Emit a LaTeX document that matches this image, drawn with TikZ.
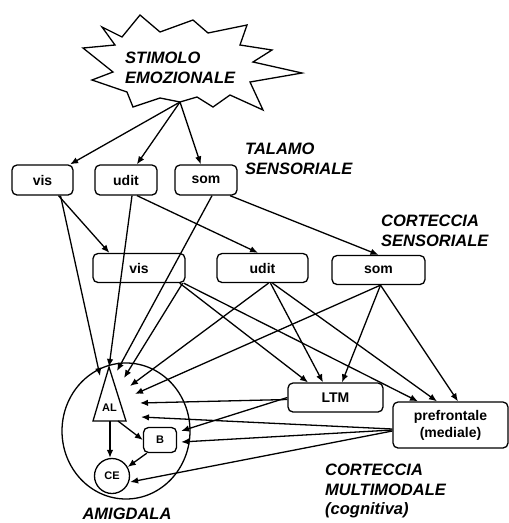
\documentclass[tikz,border=0pt]{standalone}
\usepackage{fontspec}
\setmainfont{Liberation Sans}
\usetikzlibrary{shapes.geometric,arrows.meta,calc}
\begin{document}
\begin{tikzpicture}[x=1pt,y=-1pt,
  arr/.style={-{Latex[length=8pt,width=6.5pt]}, line width=1.3pt},
  box/.style={draw, line width=1.3pt, rounded corners=5pt, fill=white, inner sep=0pt,
    font=\fontsize{14}{17}\selectfont\bfseries, align=center},
  lab/.style={font=\fontsize{16.5}{19.5}\selectfont\bfseries\itshape, align=left,
    inner sep=0pt, anchor=north west},
  small/.style={font=\fontsize{11}{13}\selectfont\bfseries, inner sep=0pt}
]
\useasboundingbox (0,0) rectangle (509,523);

% star
\draw[line width=1.3pt, fill=white] (102,27) -- (122,37) -- (140,15) -- (160,32) -- (193,20)
  -- (208,33) -- (247,25) -- (240,45) -- (272,50) -- (253,62) -- (302,73) -- (250,82)
  -- (263,110) -- (230,95) -- (213,107) -- (197,97) -- (180,102) -- (160,98) -- (133,107)
  -- (127,92) -- (92,80) -- (113,72) -- (83,48) -- (115,45) -- cycle;
\coordinate (sb) at (180,102);
\node[lab] (stim) at (125,52) {STIMOLO\\EMOZIONALE};

% labels
\node[lab] (tal) at (245,143) {TALAMO\\SENSORIALE};
\node[lab] (csl) at (381,215) {CORTECCIA\\SENSORIALE};
\node[lab] (cml) at (325,464) {CORTECCIA\\MULTIMODALE\\(cognitiva)};
\node[lab, anchor=north] (aml) at (127,507.5) {AMIGDALA};

% thalamus
\node[box, minimum width=61, minimum height=30] (tv) at (42.5,180) {vis};
\node[box, minimum width=62, minimum height=30] (tu) at (126,180) {udit};
\node[box, minimum width=62, minimum height=30] (ts) at (206,180) {som};

% sensory cortex
\node[box, minimum width=92, minimum height=29] (cv) at (139,268) {vis};
\node[box, minimum width=91, minimum height=29] (cu) at (262.5,268) {udit};
\node[box, minimum width=93, minimum height=29] (cs) at (378.5,270) {som};

% multimodal cortex
\node[box, minimum width=95, minimum height=29] (ltm) at (335.5,397.5) {LTM};
\node[box, minimum width=115, minimum height=46] (pref) at (450.5,425) {prefrontale\\(mediale)};

% amygdala
\node[draw, ellipse, line width=1.3pt, minimum width=128, minimum height=136, inner sep=0pt] (amy) at (126,431) {};
\coordinate (ALa) at (109,367);
\coordinate (ALl) at (93,421);
\coordinate (ALr) at (126,421);
\draw[line width=1.3pt, fill=white] (ALa) -- (ALr) -- (ALl) -- cycle;
\node[small] (AL) at (109.5,408) {AL};
\coordinate (ALb) at (110,421);
\node[draw, line width=1.3pt, rounded corners=5pt, fill=white, minimum width=33, minimum height=25, small] (B) at (160,440) {B};
\node[draw, circle, line width=1.3pt, fill=white, minimum size=35, small] (CE) at (112,476) {CE};

% star to thalamus
\draw[arr] (sb) -- (tv);
\draw[arr] (sb) -- (tu);
\draw[arr] (sb) -- (ts);

% thalamus to cortex
\draw[arr] ([shift={(16,0)}]tv.south) -- ([shift={(17,0)}]cv.north west);
\draw[arr] ([shift={(11,0)}]tu.south) -- ([shift={(-4.5,0)}]cu.north);
\draw[arr] ([shift={(24,0)}]ts.south) -- (cs.north);

% thalamus to AL
\draw[arr] ([shift={(18,0)}]tv.south) -- ([shift={(-9,9)}]ALa);
\draw[arr] ([shift={(6,0)}]tu.south) -- (ALa);
\draw[arr] ([shift={(6,0)}]ts.south) -- ([shift={(8,4)}]ALa);

% cortex to AL
\draw[arr] ([shift={(-3,0)}]cv.south east) -- ([shift={(15,11)}]ALa);
\draw[arr] ([shift={(6,0)}]cu.south) -- ([shift={(21,19)}]ALa);
\draw[arr] ([shift={(2,0)}]cs.south) -- ([shift={(26,27)}]ALa);

% cortex to LTM
\draw[arr] ([shift={(-6,0)}]cv.south east) -- ([shift={(-27.5,0)}]ltm.north);
\draw[arr] ([shift={(8,0)}]cu.south) -- ([shift={(-12.5,0)}]ltm.north);
\draw[arr] ([shift={(2,0)}]cs.south) -- ([shift={(6.5,0)}]ltm.north);

% cortex to prefrontal
\draw[arr] ([shift={(-2,0)}]cv.south east) -- ([shift={(-32.5,0)}]pref.north);
\draw[arr] ([shift={(10,0)}]cu.south) -- ([shift={(-13.5,0)}]pref.north);
\draw[arr] ([shift={(2,0)}]cs.south) -- ([shift={(7.5,0)}]pref.north);

% LTM to amygdala
\draw[arr] ([shift={(0,2)}]ltm.west) -- ([shift={(31,36)}]ALa);
\draw[arr] ([shift={(0,0)}]ltm.west) -- ([shift={(4,-9)}]B.east);

% prefrontal to amygdala
\draw[arr] ([shift={(0,4)}]pref.west) -- ([shift={(32,50)}]ALa);
\draw[arr] ([shift={(0,5)}]pref.west) -- ([shift={(4,2)}]B.east);
\draw[arr] ([shift={(0,6)}]pref.west) -- ([shift={(0,6)}]CE.east);

% inside amygdala
\draw[arr] (ALb) -- (ALb |- CE.north);
\draw[arr] ([shift={(-8,0)}]ALr) -- (B.west);
\draw[arr] ([shift={(4,0)}]B.south west) -- (CE.30);
\end{tikzpicture}
\end{document}
